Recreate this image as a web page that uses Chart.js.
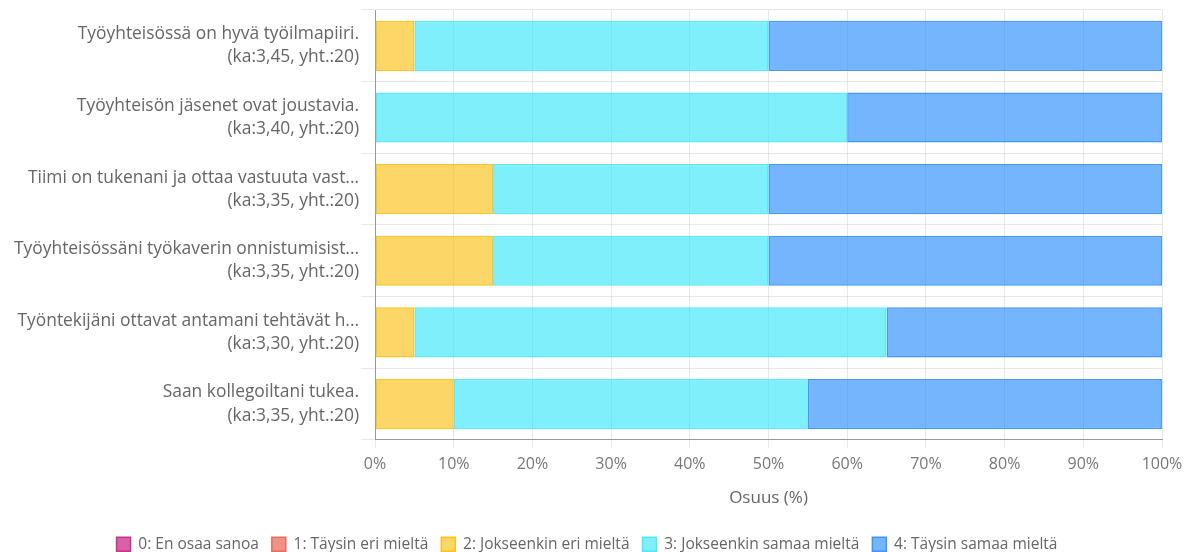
<!DOCTYPE html>
<html>
<head>
<meta charset="utf-8">
<script src="https://cdn.jsdelivr.net/npm/chart.js@4/dist/chart.umd.min.js"></script>
<style>
  html, body { margin: 0; padding: 0; background: #fff; }
  #wrap { width: 1203px; height: 552px; position: relative; }
</style>
</head>
<body>
<div id="wrap"><canvas id="likertChart"></canvas></div>
<script>
// Kysymykset (kategoriat)
const questions = [
  ['Työyhteisössä on hyvä työilmapiiri.', '(ka:3,45, yht.:20)'],
  ['Työyhteisön jäsenet ovat joustavia.', '(ka:3,40, yht.:20)'],
  ['Tiimi on tukenani ja ottaa vastuuta vast...', '(ka:3,35, yht.:20)'],
  ['Työyhteisössäni työkaverin onnistumisist...', '(ka:3,35, yht.:20)'],
  ['Työntekijäni ottavat antamani tehtävät h...', '(ka:3,30, yht.:20)'],
  ['Saan kollegoiltani tukea.', '(ka:3,35, yht.:20)']
];

// Osuudet (%) vastausvaihtoehdoittain
const enOsaaSanoa     = [0, 0, 0, 0, 0, 0];
const taysinEri       = [0, 0, 0, 0, 0, 0];
const jokseenkinEri   = [5, 0, 15, 15, 5, 10];
const jokseenkinSamaa = [45, 60, 35, 35, 60, 45];
const taysinSamaa     = [50, 40, 50, 50, 35, 45];

const seriesNames = [
  '0: En osaa sanoa',
  '1: Täysin eri mieltä',
  '2: Jokseenkin eri mieltä',
  '3: Jokseenkin samaa mieltä',
  '4: Täysin samaa mieltä'
];

const xTicks = [0, 10, 20, 30, 40, 50, 60, 70, 80, 90, 100];

// puoliläpinäkyvät täytöt, jotta ruudukko näkyy palkkien läpi
const fills   = ['rgba(200,30,130,0.7)', 'rgba(233,100,85,0.7)', 'rgba(252,187,3,0.6)', 'rgba(43,228,250,0.6)', 'rgba(25,132,253,0.6)'];
const borders = ['rgba(190,40,130,0.9)', 'rgba(230,100,85,0.9)', 'rgba(255,190,10,0.9)', 'rgba(50,228,250,0.8)', 'rgba(50,140,255,0.9)'];

const seriesData = [enOsaaSanoa, taysinEri, jokseenkinEri, jokseenkinSamaa, taysinSamaa];

const FONT = '"Open Sans", "Noto Sans", sans-serif';

const datasets = seriesData.map((d, i) => ({
  label: seriesNames[i],
  data: d,
  backgroundColor: fills[i],
  borderColor: borders[i],
  borderWidth: 1.5,
  borderSkipped: false,
  barPercentage: 0.7,
  categoryPercentage: 1.0
}));

const ctx = document.getElementById('likertChart').getContext('2d');
new Chart(ctx, {
  type: 'bar',
  data: { labels: questions, datasets: datasets },
  options: {
    indexAxis: 'y',
    responsive: true,
    maintainAspectRatio: false,
    animation: false,
    layout: { padding: { top: 10, right: 41, left: 12, bottom: -10 } },
    plugins: {
      legend: {
        position: 'bottom',
        labels: {
          boxWidth: 14,
          boxHeight: 14,
          padding: 13,
          color: '#666',
          font: { family: FONT, size: 15.5 }
        }
      },
      tooltip: { enabled: false }
    },
    scales: {
      x: {
        stacked: true,
        min: 0,
        max: 100,
        afterBuildTicks: axis => { axis.ticks = xTicks.map(v => ({ value: v })); },
        grid: { color: 'rgba(0,0,0,0.09)', tickLength: 8 },
        border: { color: '#999' },
        ticks: {
          color: '#777',
          padding: 7,
          font: { family: FONT, size: 16 },
          callback: v => v + '%'
        },
        title: {
          display: true,
          text: 'Osuus (%)',
          color: '#666',
          padding: { top: 7, bottom: 15 },
          font: { family: FONT, size: 17 }
        }
      },
      y: {
        stacked: true,
        afterFit: axis => { axis.paddingTop = 0; axis.paddingBottom = 0; },
        grid: { color: 'rgba(0,0,0,0.09)', tickLength: 14 },
        border: { color: '#999' },
        ticks: {
          color: '#666',
          padding: 2,
          font: { family: FONT, size: 17.4, lineHeight: 1.33 }
        }
      }
    }
  }
});
</script>
</body>
</html>
